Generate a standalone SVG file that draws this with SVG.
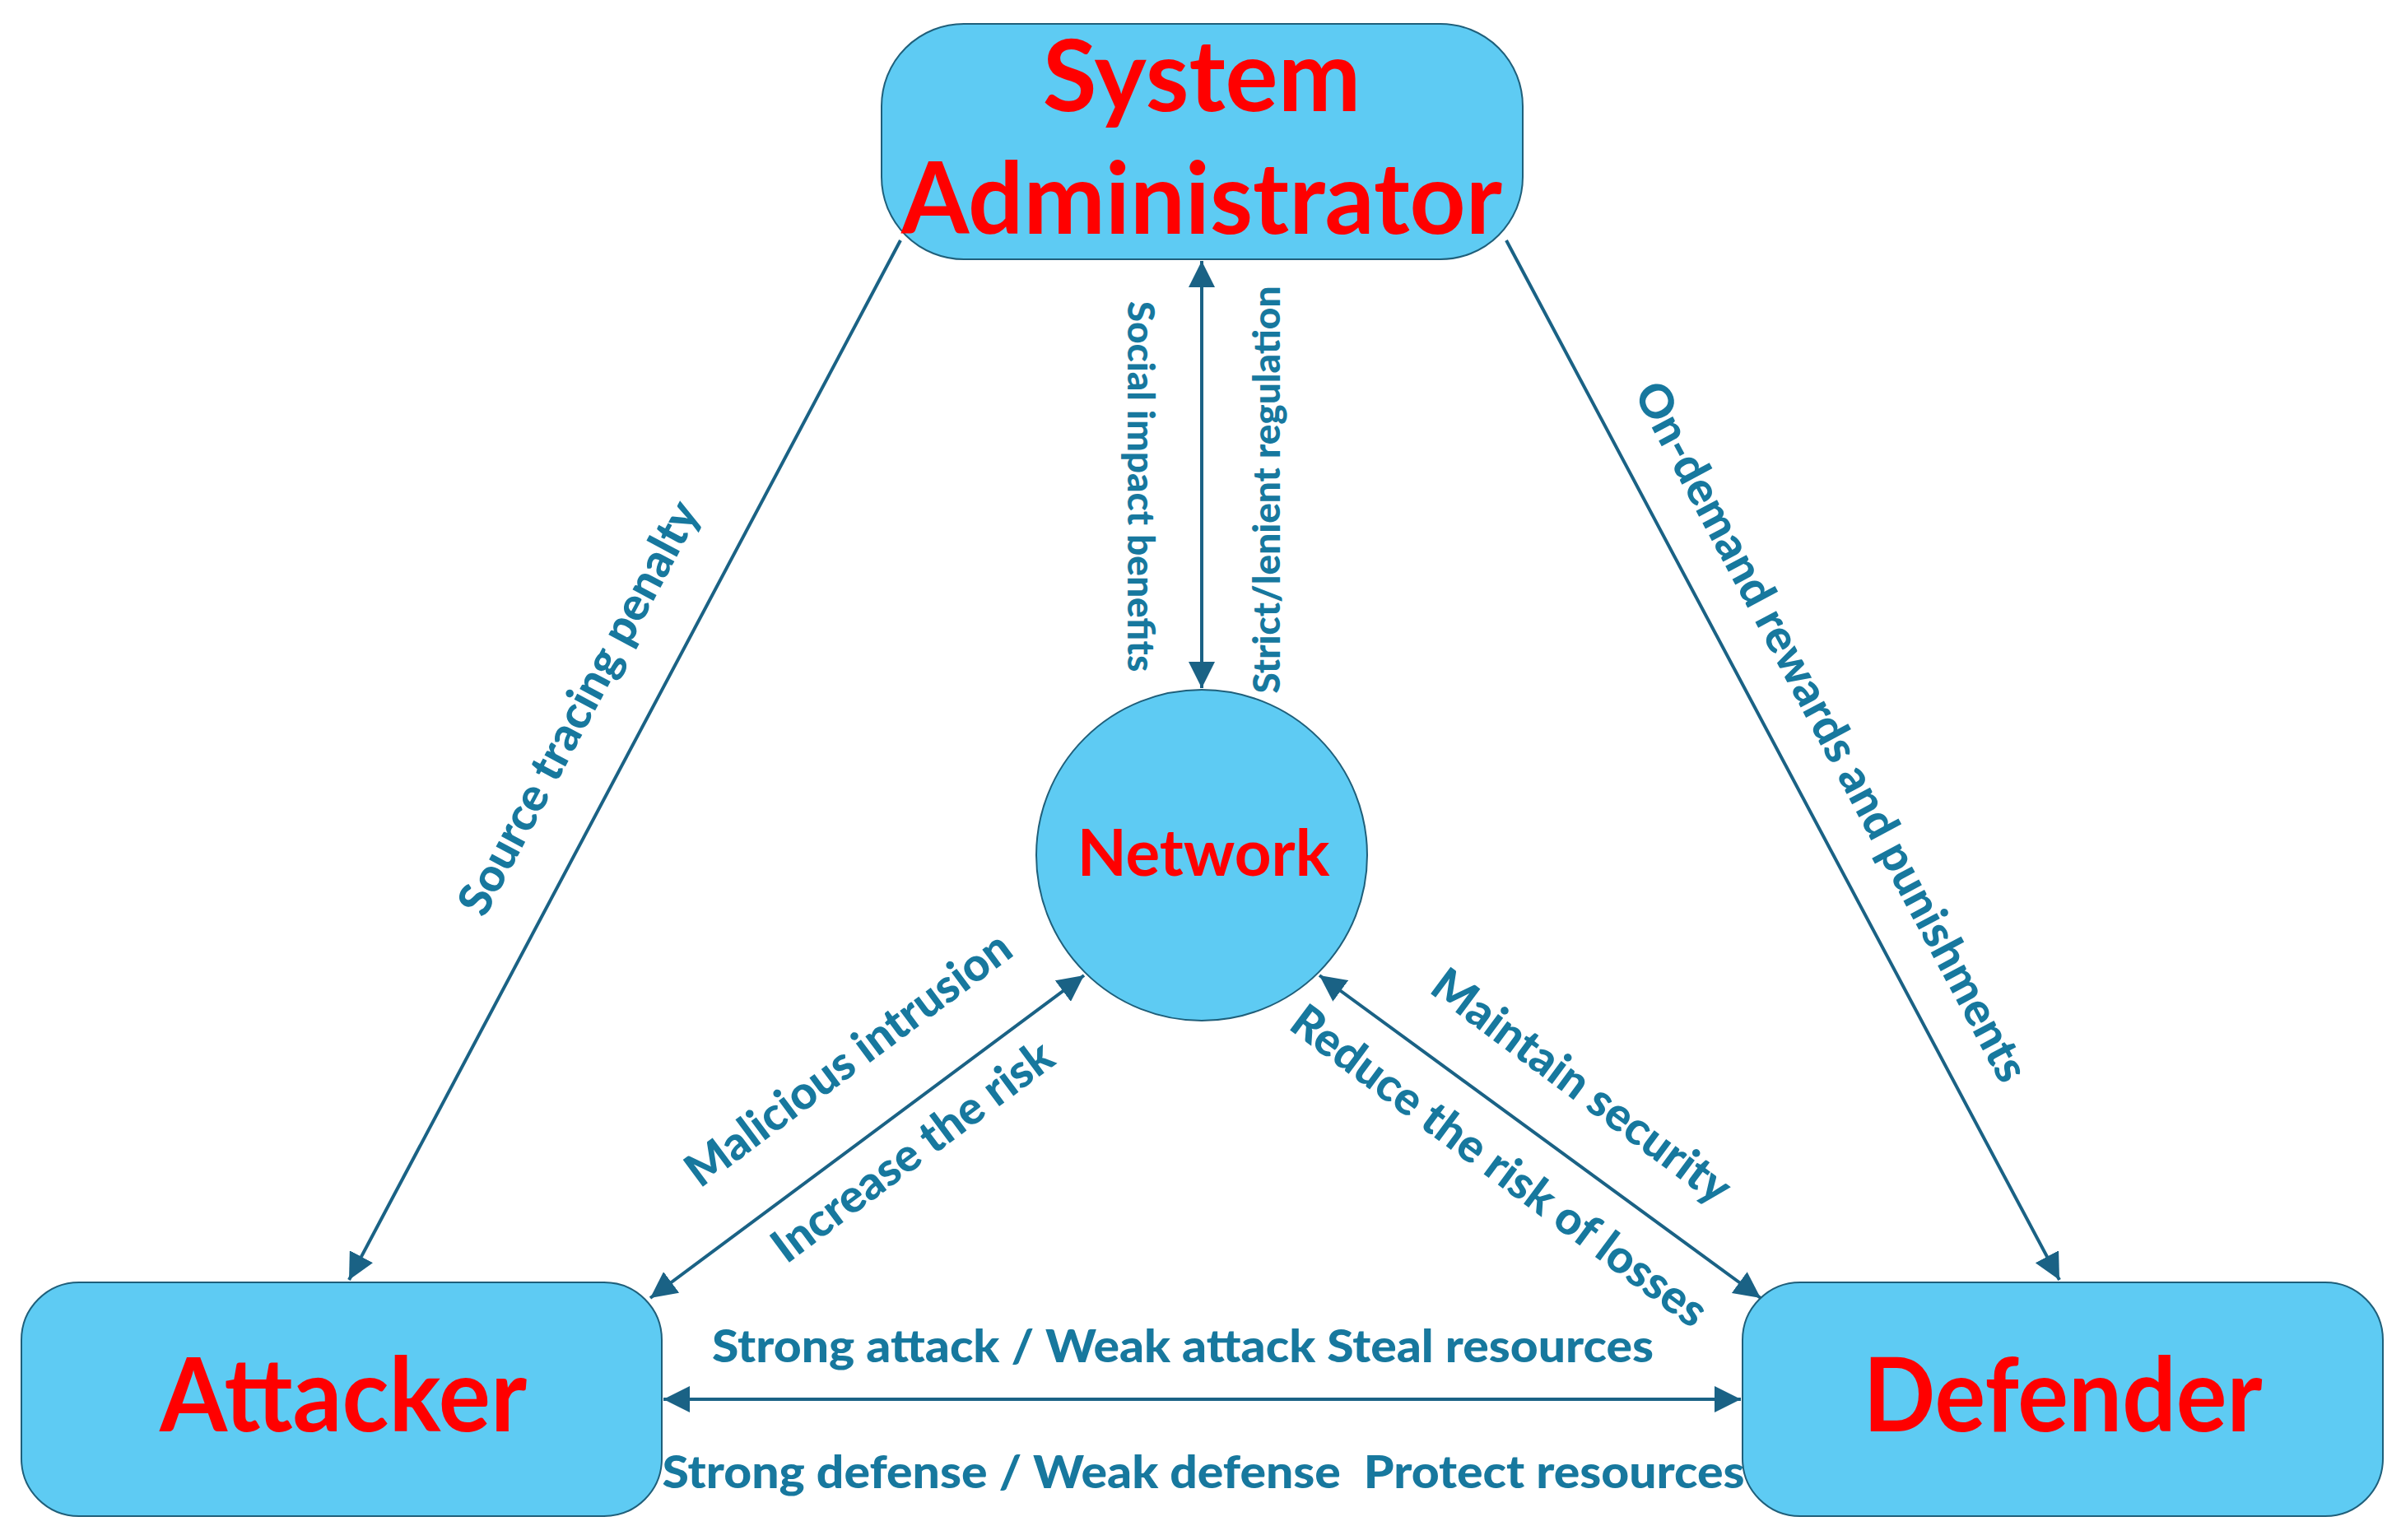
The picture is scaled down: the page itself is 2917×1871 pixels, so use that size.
<svg xmlns="http://www.w3.org/2000/svg" width="2917" height="1871" viewBox="0 0 2917 1871">
<style>
.box{fill:#5ecbf3;stroke:#1f5f7a;stroke-width:2}
.nt{font-family:Lato,"Open Sans",sans-serif;font-weight:bold;fill:#ff0000;text-anchor:middle}
.ln{stroke:#1a6285;stroke-width:4;fill:none}
.lb{font-family:Lato,"Open Sans",sans-serif;font-weight:900;fill:#17789e;font-size:56px;text-anchor:middle;white-space:pre}
</style>
<defs>
<marker id="ah2" viewBox="0 0 10 10" refX="10" refY="5" markerWidth="8" markerHeight="8" orient="auto-start-reverse"><path d="M0,0 L10,5 L0,10 z" fill="#1a6285"/></marker>
</defs>
<g id="connectors">
<line class="ln" x1="1094" y1="292" x2="424" y2="1555" marker-end="url(#ah2)"/>
<line class="ln" x1="1830" y1="292" x2="2502" y2="1555" marker-end="url(#ah2)"/>
<line class="ln" x1="1460" y1="317" x2="1460" y2="836" stroke-width="5" marker-start="url(#ah2)" marker-end="url(#ah2)"/>
<line class="ln" x1="790" y1="1577" x2="1317" y2="1185" marker-start="url(#ah2)" marker-end="url(#ah2)"/>
<line class="ln" x1="1603" y1="1185" x2="2139" y2="1577" marker-start="url(#ah2)" marker-end="url(#ah2)"/>
<line class="ln" x1="806" y1="1700" x2="2115" y2="1700" stroke-width="6" marker-start="url(#ah2)" marker-end="url(#ah2)"/>
<text class="lb" transform="translate(720,869) rotate(-62)">Source tracing penalty</text>
<text class="lb" transform="translate(2208,898) rotate(62)">On-demand rewards and punishments</text>
<text class="lb" style="font-size:46px" transform="translate(1370,591) rotate(90)">Social impact benefits</text>
<text class="lb" style="font-size:46px" transform="translate(1555,595) rotate(-90)">Strict/lenient regulation</text>
<text class="lb" transform="translate(1042,1302) rotate(-36.6)">Malicious intrusion</text>
<text class="lb" transform="translate(1120,1414) rotate(-36.6)">Increase the risk</text>
<text class="lb" transform="translate(1910,1335) rotate(36.6)">Maintain security</text>
<text class="lb" transform="translate(1810,1432) rotate(36.6)">Reduce the risk of losses</text>
<text class="lb" x="1437" y="1655" textLength="1144" lengthAdjust="spacingAndGlyphs">Strong attack / Weak attack Steal resources</text>
<text class="lb" x="1462" y="1808" textLength="1315" lengthAdjust="spacingAndGlyphs" xml:space="preserve">Strong defense / Weak defense  Protect resources</text>
</g>
<g id="sysadmin">
<rect class="box" x="1071" y="29" width="779" height="286" rx="100"/>
<text class="nt" x="1460" y="135" font-size="120">System</text>
<text class="nt" x="1460" y="284" font-size="120" textLength="730" lengthAdjust="spacingAndGlyphs">Administrator</text>
</g>
<g id="network">
<circle class="box" cx="1460" cy="1039" r="201"/>
<text class="nt" x="1462" y="1064" font-size="78">Network</text>
</g>
<g id="attacker">
<rect class="box" x="26" y="1558" width="778" height="284" rx="70"/>
<text class="nt" x="417" y="1739" font-size="125" textLength="446" lengthAdjust="spacingAndGlyphs">Attacker</text>
</g>
<g id="defender">
<rect class="box" x="2117" y="1558" width="778" height="284" rx="70"/>
<text class="nt" x="2506" y="1739" font-size="125" textLength="485" lengthAdjust="spacingAndGlyphs">Defender</text>
</g>
</svg>
